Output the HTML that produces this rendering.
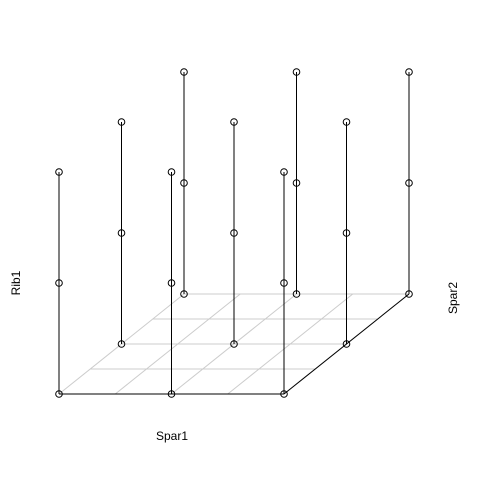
<!DOCTYPE html>
<html><head><meta charset="utf-8"><style>html,body{margin:0;padding:0;background:#fff}svg{display:block}</style></head>
<body>
<svg id="chart" width="480" height="480" xmlns="http://www.w3.org/2000/svg" font-family="Liberation Sans, sans-serif" font-size="12">
<g id="grid"></g>
<g id="marks"></g>
<text x="172" y="440" text-anchor="middle">Spar1</text>
<text x="457" y="298" text-anchor="middle" transform="rotate(-90 457 298)">Spar2</text>
<text x="20" y="283" text-anchor="middle" transform="rotate(-90 20 283)">Rib1</text>
</svg>
<script>
const xVals = [0, 1, 2];
const yVals = [0, 1, 2];
const zVals = [0, 1, 2];
const pointsX = [0,0,0,1,1,1,2,2,2, 0,0,0,1,1,1,2,2,2, 0,0,0,1,1,1,2,2,2];
const pointsY = [0,0,0,0,0,0,0,0,0, 1,1,1,1,1,1,1,1,1, 2,2,2,2,2,2,2,2,2];
const pointsZ = [0,1,2,0,1,2,0,1,2, 0,1,2,0,1,2,0,1,2, 0,1,2,0,1,2,0,1,2];
const gridSteps = [0, 0.5, 1, 1.5, 2];

const NS = 'http://www.w3.org/2000/svg';
function px(x, y) { return 59 + x * 112.5 + y * 62.5; }
function py(y, z) { return 394 - y * 50 - z * 111; }
function line(g, x1, y1, x2, y2, stroke, name) {
  const l = document.createElementNS(NS, 'line');
  l.setAttribute('x1', x1); l.setAttribute('y1', y1);
  l.setAttribute('x2', x2); l.setAttribute('y2', y2);
  l.setAttribute('stroke', stroke); l.setAttribute('stroke-width', '1');
  
  
  g.appendChild(l);
}
const grid = document.getElementById('grid');
const marks = document.getElementById('marks');
const xmin = Math.min(...xVals), xmax = Math.max(...xVals);
const ymin = Math.min(...yVals), ymax = Math.max(...yVals);
gridSteps.forEach(function (s) {
  if (s > xmin && s <= xmax || s === xmin) {
    line(grid, px(s, ymin), py(ymin, 0), px(s, ymax), py(ymax, 0), '#cccccc', 'grid-line-x');
  }
  line(grid, px(xmin, s), py(s, 0), px(xmax, s), py(s, 0), '#cccccc', 'grid-line-y');
});
line(grid, px(xmin, ymin), py(ymin, 0), px(xmax, ymin), py(ymin, 0), '#000', 'x-axis-line');
line(grid, px(xmax, ymin), py(ymin, 0), px(xmax, ymax), py(ymax, 0), '#000', 'y-axis-line');

for (let i = pointsX.length - 1; i >= 0; i--) {
  const cx = px(pointsX[i], pointsY[i]);
  const cy = py(pointsY[i], pointsZ[i]);
  line(marks, cx, py(pointsY[i], 0), cx, cy, '#000', 'drop-line');
  const c = document.createElementNS(NS, 'circle');
  c.setAttribute('cx', cx); c.setAttribute('cy', cy); c.setAttribute('r', 3.3);
  c.setAttribute('fill', 'none'); c.setAttribute('stroke', '#000');
  
  
  marks.appendChild(c);
}
</script>
</body></html>
